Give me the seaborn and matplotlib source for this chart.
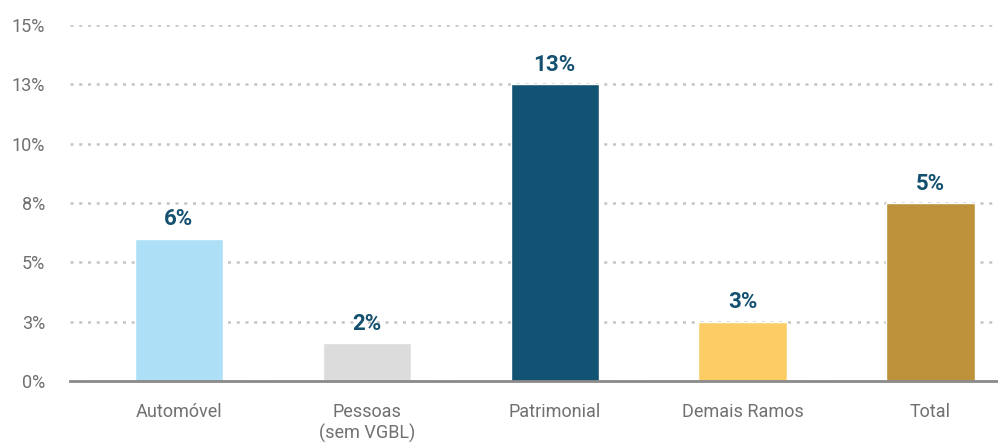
import matplotlib
matplotlib.use("Agg")
import matplotlib.pyplot as plt
import seaborn as sns
import pandas as pd

# --- dados ---
categorias = ["Automóvel", "Pessoas\n(sem VGBL)", "Patrimonial", "Demais Ramos", "Total"]
valores = [6.0, 1.6, 12.5, 2.5, 7.5]
rotulos = ["6%", "2%", "13%", "3%", "5%"]
cores = ["#addff7", "#dddcdd", "#125272", "#fdcd65", "#bd923a"]
yticks = [0, 2.5, 5, 7.5, 10, 12.5, 15]
ytick_labels = ["0%", "3%", "5%", "8%", "10%", "13%", "15%"]

df = pd.DataFrame({"categoria": categorias, "valor": valores})

sns.set_style("white")
plt.rcParams["font.family"] = ["Roboto", "DejaVu Sans"]

fig = plt.figure(figsize=(9.98, 4.47), dpi=100)
ax = fig.add_axes([70 / 998, (447 - 381) / 447, 928 / 998, 356 / 447])

sns.barplot(data=df, x="categoria", y="valor", hue="categoria",
            palette=cores, width=0.47, legend=False, ax=ax, zorder=3,
            saturation=1)

for cont, lab in zip(ax.containers, rotulos):
    ax.bar_label(cont, labels=[lab], padding=6, fontsize=16,
                 fontweight="bold", color="#14506f")

ax.set_ylim(0, 15)
ax.set_xlim(-0.58, 4.36)
ax.set_yticks(yticks)
ax.set_yticklabels(ytick_labels)
ax.yaxis.grid(True, color="#c4c4c4", linewidth=1.8, linestyle=(0, (1.2, 2.3)), zorder=0)
ax.xaxis.grid(False)

for s in ["top", "right", "left"]:
    ax.spines[s].set_visible(False)
ax.spines["bottom"].set_color("#8a8a8a")
ax.spines["bottom"].set_linewidth(2)
ax.spines["bottom"].set_zorder(4)

ax.tick_params(axis="y", length=0, pad=18, labelsize=13, labelcolor="#707070")
ax.tick_params(axis="x", length=0, pad=16, labelsize=13, labelcolor="#707070")
ax.set_xlabel("")
ax.set_ylabel("")

fig.savefig("out.png", dpi=100)
